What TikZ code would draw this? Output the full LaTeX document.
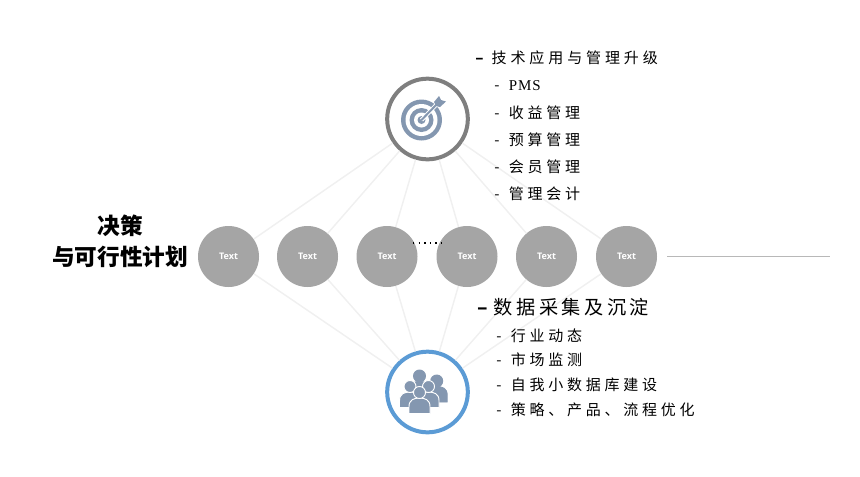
\documentclass[tikz,border=0pt]{standalone}
\usepackage{fontspec}
\newfontfamily\cjk[LetterSpace=25]{Noto Sans CJK SC}
\newfontfamily\cjkhead[LetterSpace=26]{Noto Sans CJK SC}
\newfontfamily\cjkbig[LetterSpace=18]{Noto Sans CJK SC}
\newfontfamily\cjktitle{Noto Sans CJK SC}
\newfontfamily\txtfont{Open Sans}
\newfontfamily\pmsfont[LetterSpace=6]{Liberation Serif}
\definecolor{iconblue}{RGB}{132,151,176}
\definecolor{ringblue}{RGB}{91,155,213}
\definecolor{ringgray}{RGB}{127,127,127}
\definecolor{discgray}{RGB}{165,165,165}
\definecolor{spokegray}{RGB}{240,240,240}
\tikzset{
  disc/.style = {circle, fill=discgray, text=white, inner sep=0pt, minimum size=45.75pt,
    font=\txtfont\bfseries\fontsize{6.8}{8}\selectfont},
  hub_g/.style = {circle, draw=ringgray, fill=white, line width=3pt, inner sep=0pt, minimum size=60.5pt},
  hub_b/.style = {circle, draw=ringblue, fill=white, line width=3pt, inner sep=0pt, minimum size=60.5pt},
  spoke/.style = {draw=spokegray, line width=1.1pt},
  headtext/.style = {anchor=west, inner sep=0pt, font=\cjkhead\fontsize{11.25}{13}\selectfont},
  bigtext/.style = {anchor=west, inner sep=0pt, font=\cjkbig\fontsize{14.4}{16}\selectfont},
  itemtext/.style = {anchor=west, inner sep=0pt, font=\cjk\fontsize{11.25}{13}\selectfont},
}
% one person of the group icon: head and shoulders
\newcommand{\persona}[3]{%
  \fill[iconblue, draw=#3, line width=0.7pt] (#1-10.5,#2+21) -- (#1-10.5,#2+14) .. controls (#1-10.5,#2+7) and (#1-5,#2+5.5) .. (#1,#2+5.5)
    .. controls (#1+5,#2+5.5) and (#1+10.5,#2+7) .. (#1+10.5,#2+14) -- (#1+10.5,#2+21) -- cycle;
  \fill[iconblue, draw=#3, line width=0.7pt] (#1,#2) circle (6);
}
\begin{document}
\begin{tikzpicture}[x=0.75pt,y=-0.75pt]
  \useasboundingbox (0,0) rectangle (860,476);

  \node[hub_g] (goal) at (427.5,119) {};
  \node[hub_b] (team) at (427.5,392) {};

  \node[disc] (t1) at (228.5,256.5) {Text};
  \node[disc] (t2) at (307.5,256.5) {Text};
  \node[disc] (t3) at (387,256.5) {Text};
  \node[disc] (t4) at (467,256.5) {Text};
  \node[disc] (t5) at (546.5,256.5) {Text};
  \node[disc] (t6) at (626.5,256.5) {Text};

  % spokes
  \foreach \n in {t1,t2,t3,t4,t5,t6}{
    \path[spoke] (goal) edge (\n);
    \path[spoke] (team) edge (\n);
  }

  \coordinate (dotl) at (413,243);
  \coordinate (dotr) at (444,243);
  \coordinate (tail) at (830,256.5);
  \draw[black, line width=0.8pt, dash pattern=on 1pt off 3.2pt] (dotl) -- (dotr);
  \draw[draw=black!28, line width=0.8pt, shorten <=7.6pt] (t6) -- (tail);

  % target icon
  \fill[iconblue] (421.5,120) circle (20.5);
  \fill[white] (421.5,120) circle (16);
  \fill[iconblue] (421.5,120) circle (12);
  \fill[white] (421.5,120) circle (7.5);
  \fill[iconblue] (421.5,120) circle (4);
  \draw[white, line width=3pt] (421.5,120) -- (437,104);
  \draw[iconblue, line width=1.5pt] (421.5,120) -- (437,104);
  \fill[iconblue] (434,102) -- (439,96) -- (441,100) -- (446,101.5) -- (440,107) -- (436,106) -- cycle;

  % group icon
  \persona{419.5}{376}{iconblue}
  \persona{436.7}{381}{iconblue}
  \persona{410}{386.5}{white}
  \persona{428.5}{386.5}{white}
  \persona{419.5}{392.5}{white}

  % captions
  \node[align=center, inner sep=0pt, font=\cjktitle\bfseries\fontsize{17}{23.2}\selectfont] (title) at (120,241.5) {决策\\与可行性计划};

  \node[headtext] (h1) at (475,58) {\textbf{–}\hspace{3.2pt}技术应用与管理升级};
  \node[itemtext] (i1) at (494,86) {-\hspace{7pt}{\pmsfont PMS}};
  \node[itemtext] (i2) at (494,113) {-\hspace{7pt}收益管理};
  \node[itemtext] (i3) at (494,140) {-\hspace{7pt}预算管理};
  \node[itemtext] (i4) at (494,167) {-\hspace{7pt}会员管理};
  \node[itemtext] (i5) at (494,194) {-\hspace{7pt}管理会计};

  \node[bigtext] (h2) at (477,307) {\textbf{–}\hspace{2pt}数据采集及沉淀};
  \node[itemtext] (j1) at (496,336) {-\hspace{7pt}行业动态};
  \node[itemtext] (j2) at (496,360) {-\hspace{7pt}市场监测};
  \node[itemtext] (j3) at (496,385) {-\hspace{7pt}自我小数据库建设};
  \node[itemtext] (j4) at (496,410) {-\hspace{7pt}策略、产品、流程优化};
\end{tikzpicture}
\end{document}
